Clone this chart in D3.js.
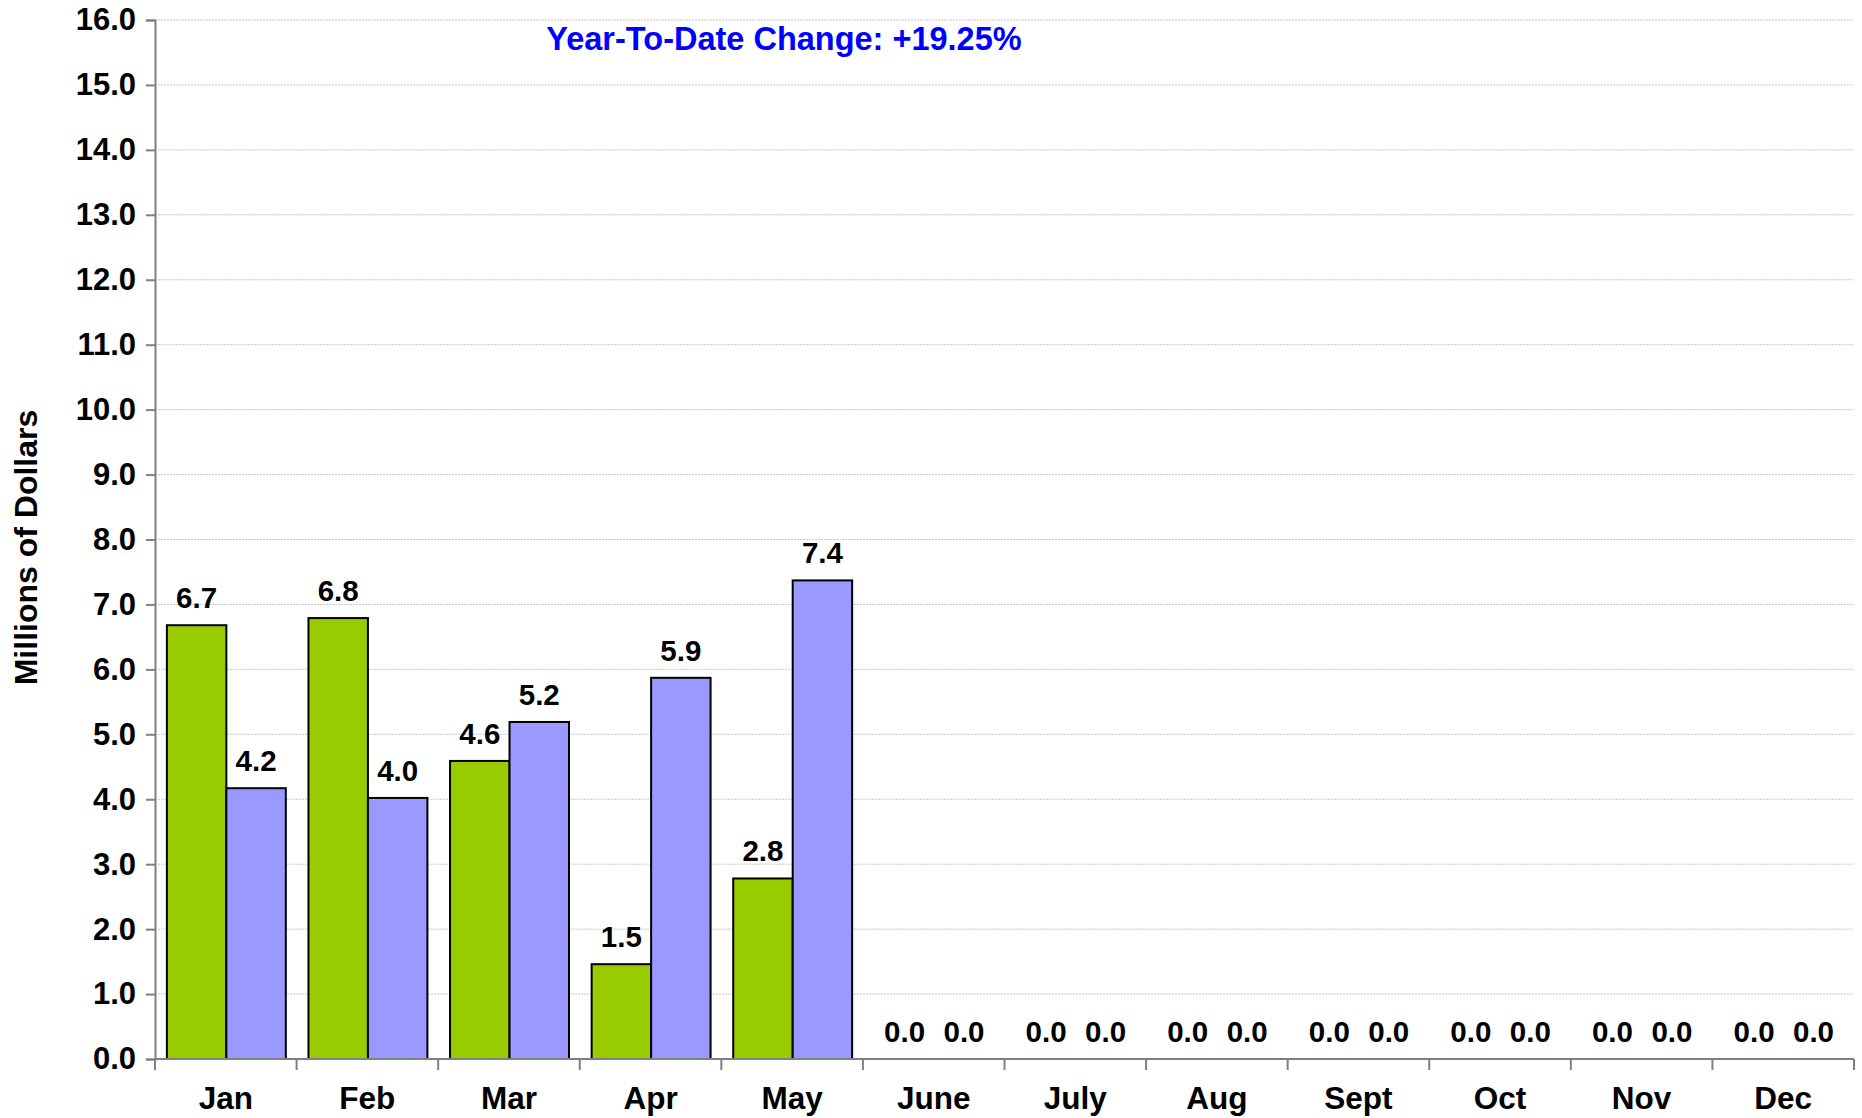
<!DOCTYPE html>
<html>
<head>
<meta charset="utf-8">
<script src="https://cdn.jsdelivr.net/npm/d3@7"></script>
<style>
  body { margin: 0; background: #fff; }
  svg text { font-family: "Liberation Sans", Arial, sans-serif; font-weight: bold; }
</style>
</head>
<body>
<div id="chart"></div>
<script>
// chart values
var months = ["Jan", "Feb", "Mar", "Apr", "May", "June", "July", "Aug", "Sept", "Oct", "Nov", "Dec"];
var greenValues = [6.68, 6.79, 4.59, 1.46, 2.78, 0, 0, 0, 0, 0, 0, 0];
var blueValues = [4.17, 4.02, 5.19, 5.87, 7.37, 0, 0, 0, 0, 0, 0, 0];
var seriesKeys = ["green", "blue"];
var seriesColors = ["#99CC00", "#9999FF"];
var yTicks = d3.range(0, 17, 1);
var ytdText = "Year-To-Date Change: +19.25%";
var yTitle = "Millions of Dollars";

var width = 1862, height = 1118;
var margin = {top: 20, right: 8, bottom: 59, left: 155};
var innerW = width - margin.left - margin.right;
var innerH = height - margin.top - margin.bottom;

var svg = d3.select('#chart').append('svg')
    .attr('width', width)
    .attr('height', height);

var g = svg.append('g')
    .attr('transform', 'translate(' + margin.left + ',' + margin.top + ')');

var x0 = d3.scaleBand().domain(months).range([0, innerW]).padding(0);
var bw = x0.bandwidth();
var x1 = d3.scaleBand().domain(seriesKeys).range([bw * 0.084, bw * 0.924]).padding(0);
var y = d3.scaleLinear().domain([0, 16]).range([innerH, 0]);

// gridlines
g.selectAll('.grid')
    .data(yTicks.filter(function(d) { return d > 0; }))
    .enter().append('line')
    .attr('x1', 0).attr('x2', innerW)
    .attr('y1', function(d) { return y(d); })
    .attr('y2', function(d) { return y(d); })
    .attr('stroke', '#c8c8c8')
    .attr('stroke-width', 1)
    .attr('stroke-dasharray', '2,1');

// bars
var rows = months.map(function(m, i) {
    return {month: m, values: [{key: 'green', v: greenValues[i]}, {key: 'blue', v: blueValues[i]}]};
});

var groups = g.selectAll('.grp').data(rows).enter().append('g')
    .attr('transform', function(d) { return 'translate(' + x0(d.month) + ',0)'; });

groups.selectAll('rect')
    .data(function(d) { return d.values.filter(function(v) { return v.v > 0; }); })
    .enter().append('rect')
    .attr('x', function(d) { return x1(d.key); })
    .attr('width', x1.bandwidth())
    .attr('y', function(d) { return y(d.v); })
    .attr('height', function(d) { return innerH - y(d.v); })
    .attr('fill', function(d) { return seriesColors[seriesKeys.indexOf(d.key)]; })
    .attr('stroke', '#000')
    .attr('stroke-width', 2);

groups.selectAll('.lbl')
    .data(function(d) { return d.values; })
    .enter().append('text')
    .attr('x', function(d) { return x1(d.key) + x1.bandwidth() / 2; })
    .attr('y', function(d) { return y(d.v) - 17; })
    .attr('text-anchor', 'middle')
    .attr('font-size', 29.5)
    .attr('fill', '#000')
    .text(function(d) { return d3.format('.1f')(d.v); });

// y axis
var yAxis = g.append('g')
    .call(d3.axisLeft(y).tickValues(yTicks).tickFormat(d3.format('.1f')).tickSize(9).tickPadding(10));
yAxis.select('.domain').attr('stroke', '#808080').attr('stroke-width', 2);
yAxis.selectAll('.tick line').attr('stroke', '#808080').attr('stroke-width', 2);
yAxis.selectAll('text').attr('font-size', 31).attr('fill', '#000')
    .attr('font-family', '"Liberation Sans", Arial, sans-serif').attr('font-weight', 'bold');

// x axis
var xAxisG = g.append('g').attr('transform', 'translate(0,' + innerH + ')');
xAxisG.append('line')
    .attr('x1', 0).attr('x2', innerW)
    .attr('stroke', '#808080').attr('stroke-width', 2);
xAxisG.selectAll('.xt')
    .data(months.concat(['end']))
    .enter().append('line')
    .attr('x1', function(d, i) { return i * bw; })
    .attr('x2', function(d, i) { return i * bw; })
    .attr('y1', 0).attr('y2', 11)
    .attr('stroke', '#808080').attr('stroke-width', 2);
xAxisG.selectAll('.xl')
    .data(months)
    .enter().append('text')
    .attr('x', function(d) { return x0(d) + bw / 2; })
    .attr('y', 50)
    .attr('text-anchor', 'middle')
    .attr('font-size', 31.5)
    .attr('fill', '#000')
    .text(function(d) { return d; });

// y title
svg.append('text')
    .attr('transform', 'translate(37,' + (margin.top + innerH / 2 + 8) + ') rotate(-90)')
    .attr('text-anchor', 'middle')
    .attr('font-size', 32)
    .attr('fill', '#000')
    .text(yTitle);

// ytd annotation
svg.append('text')
    .attr('x', 784)
    .attr('y', 50)
    .attr('text-anchor', 'middle')
    .attr('font-size', 32.5)
    .attr('fill', '#0000FF')
    .text(ytdText);
</script>
</body>
</html>
